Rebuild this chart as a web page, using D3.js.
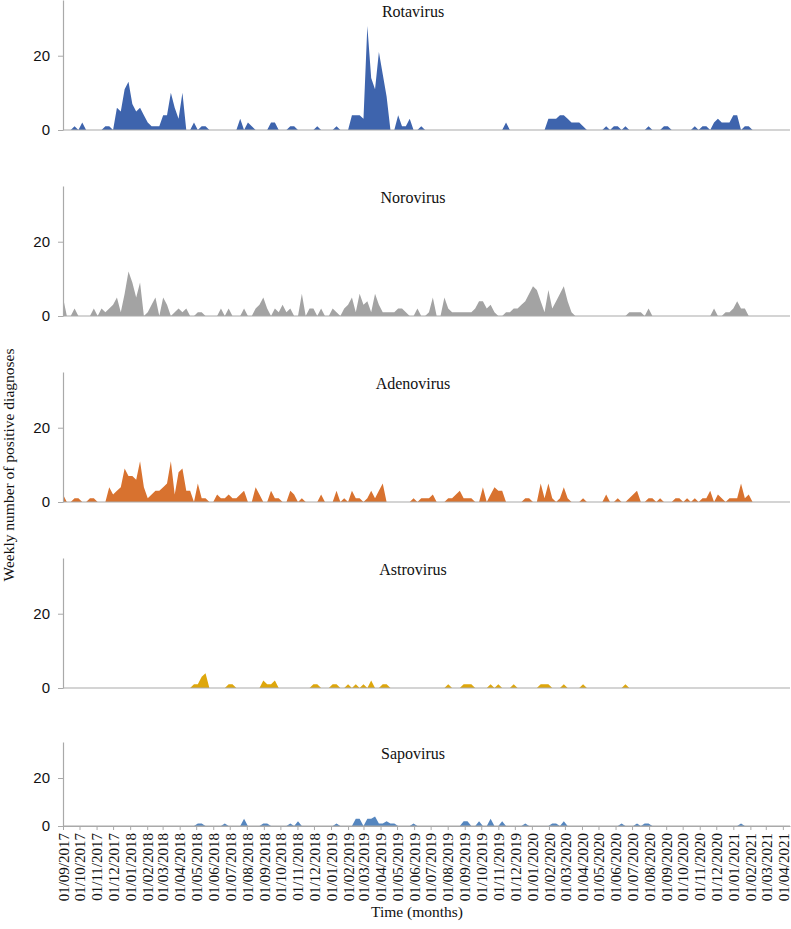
<!DOCTYPE html>
<html>
<head>
<meta charset="utf-8">
<script src="https://cdn.jsdelivr.net/npm/d3@7"></script>
<style>
  body { margin: 0; background: #fff; }
  svg { display: block; }
  .serif { font-family: "Liberation Serif", "Times New Roman", serif; fill: #111; }
</style>
</head>
<body>
<svg id="chart" width="791" height="929"></svg>
<script>
// first week of the series and the end of the time axis
const startDate = "01/09/2017";
const endDate = "14/04/2021";

const tickLabels = [
  "01/09/2017", "01/10/2017", "01/11/2017", "01/12/2017",
  "01/01/2018", "01/02/2018", "01/03/2018", "01/04/2018", "01/05/2018", "01/06/2018",
  "01/07/2018", "01/08/2018", "01/09/2018", "01/10/2018", "01/11/2018", "01/12/2018",
  "01/01/2019", "01/02/2019", "01/03/2019", "01/04/2019", "01/05/2019", "01/06/2019",
  "01/07/2019", "01/08/2019", "01/09/2019", "01/10/2019", "01/11/2019", "01/12/2019",
  "01/01/2020", "01/02/2020", "01/03/2020", "01/04/2020", "01/05/2020", "01/06/2020",
  "01/07/2020", "01/08/2020", "01/09/2020", "01/10/2020", "01/11/2020", "01/12/2020",
  "01/01/2021", "01/02/2021", "01/03/2021", "01/04/2021"
];

const virusNames = ["Rotavirus", "Norovirus", "Adenovirus", "Astrovirus", "Sapovirus"];
const virusColors = ["#3e64ad", "#a3a3a3", "#d8722f", "#dea70c", "#5586bf"];

// weekly positive diagnoses, one value per week
const rotavirus = [
  0,0,0,1,0,2,0,0,0,0, 0,1,1,0,6,5,11,13,7,5,
  6,4,2,1,1,1,4,4,10,6, 3,10,0,0,2,0,1,1,0,0,
  0,0,0,0,0,0,3,0,2,1, 0,0,0,0,2,2,0,0,0,1,
  1,0,0,0,0,0,1,0,0,0, 0,1,0,0,0,4,4,4,3,28,
  14,11,21,15,9,0,0,4,1,1, 3,0,0,1,0,0,0,0,0,0,
  0,0,0,0,0,0,0,0,0,0, 0,0,0,0,0,2,0,0,0,0,
  0,0,0,0,0,0,3,3,3,4, 4,3,2,2,2,1,0,0,0,0,
  0,1,0,1,1,0,1,0,0,0, 0,0,1,0,0,0,1,1,0,0,
  0,0,0,0,1,0,1,1,0,2, 3,2,2,2,4,4,0,1,1,0
];
const norovirus = [
  5,0,0,2,0,0,0,0,2,0, 2,1,2,3,5,1,6,12,9,5,
  9,0,1,3,5,0,5,3,0,1, 2,1,2,0,0,1,1,0,0,0,
  0,2,0,2,0,0,0,2,0,0, 2,3,5,2,0,2,1,3,1,2,
  0,0,6,0,2,2,0,2,0,0, 2,1,0,2,3,5,1,6,3,4,
  1,6,3,1,1,1,1,2,2,1, 0,0,2,0,0,1,5,0,0,5,
  2,1,1,1,1,1,1,2,4,4, 2,3,1,0,0,1,1,2,2,3,
  4,6,8,7,4,1,7,2,4,6, 8,4,1,0,0,0,0,0,0,0,
  0,0,0,0,0,0,0,1,1,1, 1,0,2,0,0,0,0,0,0,0,
  0,0,0,0,0,0,0,0,0,2, 0,0,1,1,2,4,2,2,0,0
];
const adenovirus = [
  2,0,0,1,1,0,0,1,1,0, 0,0,4,2,3,4,9,7,7,6,
  11,4,1,2,3,3,4,5,11,2, 8,9,3,3,0,5,1,1,0,0,
  2,1,1,2,1,1,2,3,0,0, 4,2,0,0,3,1,1,0,0,3,
  2,0,1,0,0,0,0,2,0,0, 0,3,0,1,0,3,1,1,0,1,
  3,1,3,5,0,0,0,0,0,0, 0,1,0,1,1,1,2,0,0,0,
  1,1,2,3,1,1,1,0,0,4, 0,2,4,3,3,0,0,0,0,0,
  1,1,0,0,5,1,5,1,0,1, 4,1,0,0,0,1,0,0,0,0,
  0,2,0,0,1,0,0,1,2,3, 0,0,1,1,0,1,0,0,0,1,
  1,0,1,0,1,0,1,1,3,0, 2,1,0,1,1,1,5,1,2,0
];
const astrovirus = [
  0,0,0,0,0,0,0,0,0,0, 0,0,0,0,0,0,0,0,0,0,
  0,0,0,0,0,0,0,0,0,0, 0,0,0,0,1,1,3,4,0,0,
  0,0,0,1,1,0,0,0,0,0, 0,0,2,1,1,2,0,0,0,0,
  0,0,0,0,0,1,1,0,0,0, 1,1,0,0,1,0,1,0,1,0,
  2,0,0,1,1,0,0,0,0,0, 0,0,0,0,0,0,0,0,0,0,
  1,0,0,0,1,1,1,0,0,0, 0,1,0,1,0,0,0,1,0,0,
  0,0,0,0,1,1,1,0,0,0, 1,0,0,0,0,1,0,0,0,0,
  0,0,0,0,0,0,1,0,0,0, 0,0,0,0,0,0,0,0,0,0,
  0,0,0,0,0,0,0,0,0,0, 0,0,0,0,0,0,0,0,0,0
];
const sapovirus = [
  0,0,0,0,0,0,0,0,0,0, 0,0,0,0,0,0,0,0,0,0,
  0,0,0,0,0,0,0,0,0,0, 0,0,0,0,0,1,1,0,0,0,
  0,0,1,0,0,0,0,3,0,0, 0,0,1,1,0,0,0,0,0,1,
  0,2,0,0,0,0,0,0,0,0, 0,1,0,0,0,0,3,3,0,3,
  3,4,1,1,2,1,1,0,0,0, 0,1,0,0,0,0,0,0,0,0,
  0,0,0,0,2,2,0,0,2,0, 0,3,0,0,2,0,0,0,0,0,
  1,0,0,0,0,0,0,1,1,0, 2,0,0,0,0,0,0,0,0,0,
  0,0,0,0,0,1,0,0,0,1, 0,1,1,0,0,0,0,0,0,0,
  0,0,0,0,0,0,0,0,0,0, 0,0,0,0,0,0,1,0,0,0
];

const yTicks = [0, 20];
const yMax = 35;

(() => {
  const parse = d3.timeParse("%d/%m/%Y");
  const start = parse(startDate);
  const weeks = rotavirus.map((_d, i) => d3.timeDay.offset(start, i * 7));
  const tickDates = tickLabels.map(parse);
  const series = [rotavirus, norovirus, adenovirus, astrovirus, sapovirus];

  const left = 63, right = 790;
  const panelTop = [0, 186, 372, 558, 742];
  const panelBottom = [130, 316, 502, 688, 826];
  const axisGrey = "#a9a9a9";

  const svg = d3.select("#chart");
  const x = d3.scaleTime().domain([start, parse(endDate)]).range([left, right]);

  virusNames.forEach((name, i) => {
    const y = d3.scaleLinear().domain([0, yMax]).range([panelBottom[i], panelTop[i]]);
    const g = svg.append("g").attr("class", "panel");

    const area = d3.area()
      .x((_d, j) => x(weeks[j]))
      .y0(y(0))
      .y1((d) => y(d));
    g.append("path").datum(series[i]).attr("fill", virusColors[i]).attr("d", area);

    g.append("line")
      .attr("x1", left).attr("x2", right)
      .attr("y1", y(0)).attr("y2", y(0))
      .attr("stroke", axisGrey).attr("stroke-width", 1.2);

    const yAxis = g.append("g")
      .attr("transform", `translate(${left},0)`)
      .call(d3.axisLeft(y).tickValues(yTicks).tickSize(5).tickSizeOuter(0).tickPadding(8));
    yAxis.select(".domain").attr("stroke", axisGrey).attr("stroke-width", 1.2);
    yAxis.selectAll(".tick line").attr("stroke", axisGrey);
    yAxis.selectAll(".tick text")
      .attr("font-family", "'Liberation Sans', Arial, sans-serif")
      .attr("font-size", 15).attr("fill", "#111");

    g.append("text")
      .attr("class", "serif")
      .attr("x", 413).attr("y", panelTop[i] + 17)
      .attr("text-anchor", "middle")
      .attr("font-size", 16)
      .text(name);

    if (i === virusNames.length - 1) {
      const xAxis = g.append("g")
        .attr("transform", `translate(0,${y(0)})`)
        .call(d3.axisBottom(x).tickValues(tickDates).tickSize(4).tickSizeOuter(0)
          .tickFormat((_d, k) => tickLabels[k]));
      xAxis.select(".domain").attr("stroke", axisGrey).attr("stroke-width", 1.2);
      xAxis.selectAll(".tick line").attr("stroke", axisGrey);
      xAxis.selectAll(".tick text")
        .attr("class", "serif")
        .attr("font-size", 15)
        .attr("transform", "rotate(-90)")
        .attr("x", -7).attr("y", 0).attr("dy", "0.35em")
        .attr("text-anchor", "end");
    }
  });

  svg.append("text")
    .attr("class", "serif")
    .attr("transform", "translate(14,465) rotate(-90)")
    .attr("text-anchor", "middle")
    .attr("font-size", 15.5)
    .text("Weekly number of positive diagnoses");

  svg.append("text")
    .attr("class", "serif")
    .attr("x", 417).attr("y", 917)
    .attr("text-anchor", "middle")
    .attr("font-size", 15.5)
    .text("Time (months)");
})();
</script>
</body>
</html>
